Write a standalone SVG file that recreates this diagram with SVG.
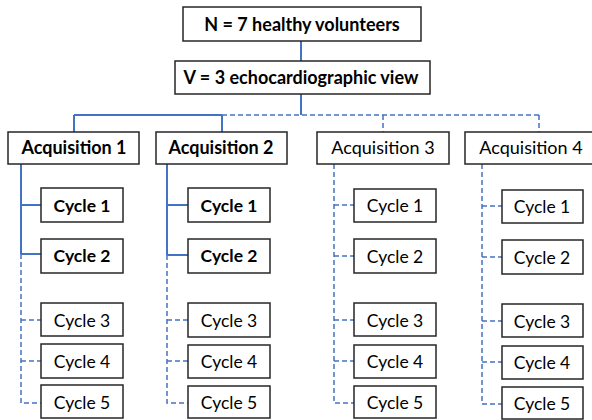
<svg xmlns="http://www.w3.org/2000/svg" width="592" height="420" viewBox="0 0 592 420">
<style>
.box{fill:#fff;stroke:#262626;stroke-width:1.5}
.t{font-family:Lato,"Open Sans","Liberation Sans",sans-serif;font-size:17.5px;text-anchor:middle;fill:#000}
.b{font-weight:bold}
.h{font-size:18px}
.s{fill:none;stroke:#4472C4;stroke-width:2}
.d{fill:none;stroke:#4472C4;stroke-width:1.5;stroke-dasharray:5 3}
</style>
<rect width="592" height="420" fill="#fff"/>
<g id="connectors">
<path class="s" d="M301 41V61M301 94V115M74 115H222M74 115V132M222 115V132"/>
<path class="d" d="M222 115H539M383 115V132M539 115V132"/>
<path class="s" d="M21 164V254M21 205H41M21 254H41M167 164V255M167 205H188M167 255H188"/>
<path class="d" d="M21 254V403H41M21 320H41M21 361H41M167 255V403H188M167 320H188M167 361H188"/>
<path class="d" d="M334 164V403H354M334 205H354M334 256H354M334 320H354M334 361H354"/>
<path class="d" d="M482 164V404H502M482 206H502M482 257H502M482 321H502M482 362H502"/>
</g>
<g id="n-volunteers"><rect class="box" x="183" y="7" width="238" height="34"/><text class="t b h" x="302" y="31">N = 7 healthy volunteers</text></g>
<g id="v-views"><rect class="box" x="175" y="61" width="255" height="33"/><text class="t b h" x="301" y="84">V = 3 echocardiographic view</text></g>
<g id="acq1"><rect class="box" x="8" y="132" width="131" height="32"/><text class="t b h" x="74" y="154">Acquisition 1</text></g>
<g id="acq2"><rect class="box" x="156" y="132" width="131" height="32"/><text class="t b h" x="221" y="154">Acquisition 2</text></g>
<g id="acq3"><rect class="box" x="317" y="132" width="132" height="32"/><text class="t h" x="383" y="154">Acquisition 3</text></g>
<g id="acq4"><rect class="box" x="465" y="132" width="133" height="32"/><text class="t h" x="531" y="154">Acquisition 4</text></g>
<g id="a1c1"><rect class="box" x="41" y="188" width="82" height="34"/><text class="t b" x="82" y="212">Cycle 1</text></g>
<g id="a1c2"><rect class="box" x="41" y="239" width="82" height="34"/><text class="t b" x="82" y="262">Cycle 2</text></g>
<g id="a1c3"><rect class="box" x="41" y="303" width="82" height="33"/><text class="t" x="82" y="327">Cycle 3</text></g>
<g id="a1c4"><rect class="box" x="41" y="344" width="82" height="34"/><text class="t" x="82" y="368">Cycle 4</text></g>
<g id="a1c5"><rect class="box" x="41" y="385" width="82" height="33"/><text class="t" x="82" y="409">Cycle 5</text></g>
<g id="a2c1"><rect class="box" x="188" y="188" width="82" height="34"/><text class="t b" x="229" y="212">Cycle 1</text></g>
<g id="a2c2"><rect class="box" x="188" y="239" width="82" height="34"/><text class="t b" x="229" y="262">Cycle 2</text></g>
<g id="a2c3"><rect class="box" x="188" y="303" width="82" height="34"/><text class="t" x="229" y="327">Cycle 3</text></g>
<g id="a2c4"><rect class="box" x="188" y="345" width="82" height="33"/><text class="t" x="229" y="368">Cycle 4</text></g>
<g id="a2c5"><rect class="box" x="188" y="386" width="82" height="32"/><text class="t" x="229" y="409">Cycle 5</text></g>
<g id="a3c1"><rect class="box" x="354" y="189" width="82" height="33"/><text class="t" x="395" y="212">Cycle 1</text></g>
<g id="a3c2"><rect class="box" x="354" y="239" width="82" height="34"/><text class="t" x="395" y="263">Cycle 2</text></g>
<g id="a3c3"><rect class="box" x="354" y="303" width="82" height="33"/><text class="t" x="395" y="327">Cycle 3</text></g>
<g id="a3c4"><rect class="box" x="354" y="345" width="82" height="33"/><text class="t" x="395" y="368">Cycle 4</text></g>
<g id="a3c5"><rect class="box" x="354" y="386" width="82" height="32"/><text class="t" x="395" y="409">Cycle 5</text></g>
<g id="a4c1"><rect class="box" x="502" y="190" width="81" height="33"/><text class="t" x="542" y="213">Cycle 1</text></g>
<g id="a4c2"><rect class="box" x="502" y="240" width="81" height="34"/><text class="t" x="542" y="264">Cycle 2</text></g>
<g id="a4c3"><rect class="box" x="502" y="304" width="81" height="33"/><text class="t" x="542" y="328">Cycle 3</text></g>
<g id="a4c4"><rect class="box" x="502" y="346" width="81" height="33"/><text class="t" x="542" y="369">Cycle 4</text></g>
<g id="a4c5"><rect class="box" x="502" y="387" width="81" height="32"/><text class="t" x="542" y="410">Cycle 5</text></g>
</svg>
